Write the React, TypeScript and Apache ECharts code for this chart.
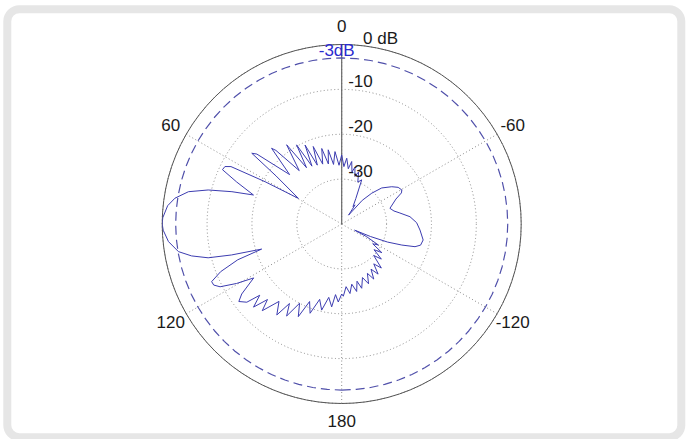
import React, { useEffect, useRef } from "react";
import * as echarts from "echarts";

// Polar pattern data: [angle in degrees, level in dB]
const MAIN_LOBE_UPPER: [number, number][] = [
  [90, 0], [88, -0.1], [84, -1.0], [81.2, -2.4], [78.1, -5.1], [75.7, -9.3], [73.6, -14.5], [71.8, -19.3],
];
const SIDELOBE_TOP: [number, number][] = [
  [68.2, -14.8], [65.5, -10.8], [63.8, -11.0], [62.6, -12.2], [61.1, -20.5], [59.4, -28.8],
];
const RIPPLES_TOP: [number, number][] = [
  [53.8, -21.9], [51.8, -14.5], [50.5, -15.5], [46.5, -24.0], [42.8, -17.0], [41.8, -18.0],
  [38.5, -24.8], [34.8, -18.5], [32.0, -25.2], [29.7, -19.7], [27.2, -25.5], [24.9, -20.6],
  [22.5, -25.8], [20.2, -21.6], [17.6, -26.0], [14.8, -22.6], [12.5, -26.3], [10.3, -23.2],
  [7.8, -26.6], [5.3, -23.8], [2.6, -26.9], [0, -24.6], [-2.2, -27.2], [-4.4, -25.3],
  [-6.8, -27.6], [-9.1, -25.9], [-11.2, -28.2], [-13.1, -27.0], [-15.5, -29.0], [-18, -27.8],
  [-21, -30.0], [-24.4, -29.2], [-29, -33.5], [-33, -35.4], [-35, -34.8], [-37.8, -37.5],
];
const RIGHT_LOBE: [number, number][] = [
  [-41, -33.0], [-44.3, -30.4], [-48, -28.0], [-53.3, -26.1], [-57, -25.0], [-60.5, -24.6],
  [-62.5, -25.0], [-65.3, -26.7], [-72, -28.7], [-76, -28.0], [-79.3, -26.8], [-83.9, -24.7],
  [-89, -23.3], [-94.4, -22.5], [-101.1, -21.5], [-105, -21.8], [-107.2, -22.9], [-109.3, -25.8],
  [-111.5, -29.0], [-113.5, -33.0], [-115.5, -36.8],
];
const RIPPLES_BOTTOM_RIGHT: [number, number][] = [
  [-116.9, -33.8], [-119.8, -30.6], [-122.5, -31.8], [-125.5, -29.0], [-128.5, -30.8], [-131.5, -28.2],
  [-134.5, -30.0], [-138, -26.8], [-141.2, -28.6], [-144, -26.2], [-147, -28.0], [-149.8, -25.8],
  [-152.5, -27.6], [-155.8, -25.4], [-158.8, -27.2], [-162.7, -25.0], [-165, -26.8], [-167.5, -24.6],
  [-170.5, -26.4], [-173.2, -24.4], [-176, -26.0], [-178.7, -23.9], [-180, -24.4],
];
const RIPPLES_BOTTOM_LEFT: [number, number][] = [
  [180, -24.4], [177.5, -22.6], [175, -24.2], [173.1, -21.4], [170, -23.4], [166.9, -20.3],
  [163.7, -22.5], [160.5, -18.9], [157.5, -21.3], [154.9, -17.2], [152, -20.0], [149.1, -16.1],
  [146.7, -18.8], [144.5, -15.1], [141, -17.8], [137.5, -13.8], [135.5, -16.4], [133.3, -13.0],
  [131, -15.8], [129.5, -12.6], [127, -11.3], [125, -12.8], [121.5, -17.0],
];
const SIDELOBE_BOTTOM: [number, number][] = [
  [119.5, -13.1], [117.3, -9.5], [115.5, -8.4], [113.9, -8.3], [111.5, -11.0], [109, -15.5], [107.4, -21.3],
];
const MAIN_LOBE_LOWER: [number, number][] = [
  [105.7, -14.5], [104.2, -9.3], [102, -5.8], [99.6, -3.1], [95.8, -1.2], [92, -0.2], [90, 0],
];

const ANGLE_LABELS = [0, 60, 120, 180, -120, -60];
const RING_LABELS = [-10, -20, -30];
const HALF_POWER_DB = -3;
const DB_MIN = -40;
const DB_MAX = 0;

const CX = 341.7;
const CY = 224;
const R = 179.5;
const FONT = "'Liberation Sans', Arial, Helvetica, sans-serif";

export default function App() {
  const ref = useRef<HTMLDivElement>(null);

  useEffect(() => {
    if (!ref.current) return;
    const chart = echarts.init(ref.current, null, { renderer: "svg" });

    const pattern = [
      ...MAIN_LOBE_UPPER, ...SIDELOBE_TOP, ...RIPPLES_TOP, ...RIGHT_LOBE,
      ...RIPPLES_BOTTOM_RIGHT, ...RIPPLES_BOTTOM_LEFT, ...SIDELOBE_BOTTOM, ...MAIN_LOBE_LOWER,
    ];
    const ringAngles: number[] = [];
    for (let a = -180; a <= 180; a += 5) ringAngles.push(a);

    const graphics: any[] = [
      {
        type: "rect",
        shape: { x: 7.3, y: 9.2, width: 674, height: 428, r: 12 },
        style: { fill: "none", stroke: "#e6e6e6", lineWidth: 8 },
        silent: true,
      },
    ];
    ANGLE_LABELS.forEach((a) => {
      const t = (a * Math.PI) / 180;
      graphics.push({
        type: "text",
        x: CX - 1.1 * R * Math.sin(t),
        y: CY - 1.1 * R * Math.cos(t),
        style: { text: String(a), fontSize: 17, fontFamily: FONT, fill: "#1a1a1a", align: "center", verticalAlign: "middle" },
        z: 10,
      });
    });
    RING_LABELS.forEach((v) => {
      const r = (R * (v - DB_MIN)) / (DB_MAX - DB_MIN);
      graphics.push({
        type: "text",
        x: CX + 6.5,
        y: CY - r + 0.5,
        style: { text: String(v), fontSize: 17, fontFamily: FONT, fill: "#1a1a1a", align: "left", verticalAlign: "bottom" },
        z: 10,
      });
    });
    graphics.push({
      type: "text",
      x: 363,
      y: 38.5,
      style: { text: "0 dB", fontSize: 17, fontFamily: FONT, fill: "#1a1a1a", align: "left", verticalAlign: "middle" },
      z: 10,
    });
    graphics.push({
      type: "text",
      x: 336.7,
      y: 50,
      style: { text: "-3dB", fontSize: 17, fontFamily: FONT, fill: "#2a2ad0", align: "center", verticalAlign: "middle" },
      z: 10,
    });

    chart.setOption({
      animation: false,
      backgroundColor: "#ffffff",
      polar: { center: [CX, CY], radius: R },
      angleAxis: {
        type: "value",
        min: -180,
        max: 180,
        interval: 60,
        startAngle: 270,
        clockwise: false,
        axisLine: { show: true, lineStyle: { color: "#555555", width: 1 } },
        axisTick: { show: false },
        axisLabel: { show: false },
        splitLine: { show: true, lineStyle: { color: "#8a8a8a", width: 1, type: [1, 2.5] } },
      },
      radiusAxis: {
        type: "value",
        min: DB_MIN,
        max: DB_MAX,
        interval: 10,
        axisLine: { show: false },
        axisTick: { show: false },
        axisLabel: { show: false },
        splitLine: { show: true, lineStyle: { color: "#8a8a8a", width: 1, type: [1, 2.5] } },
      },
      graphic: graphics,
      series: [
        {
          type: "line",
          coordinateSystem: "polar",
          data: [[DB_MIN, 0], [DB_MAX, 0]],
          showSymbol: false,
          silent: true,
          lineStyle: { color: "#666666", width: 1.2 },
          z: 2,
        },
        {
          type: "line",
          coordinateSystem: "polar",
          data: ringAngles.map((a) => [HALF_POWER_DB, a]),
          showSymbol: false,
          silent: true,
          lineStyle: { color: "#5050aa", width: 1.2, type: [9, 5] },
          z: 3,
        },
        {
          type: "line",
          coordinateSystem: "polar",
          data: pattern.map(([a, db]) => [db, a]),
          showSymbol: false,
          silent: true,
          lineStyle: { color: "#3c3cb0", width: 1 },
          z: 4,
        },
      ],
    });

    return () => chart.dispose();
  }, []);

  return (
    <div
      ref={ref}
      style={{ position: "fixed", left: 0, top: 0, width: 687, height: 439, background: "#ffffff" }}
    />
  );
}
